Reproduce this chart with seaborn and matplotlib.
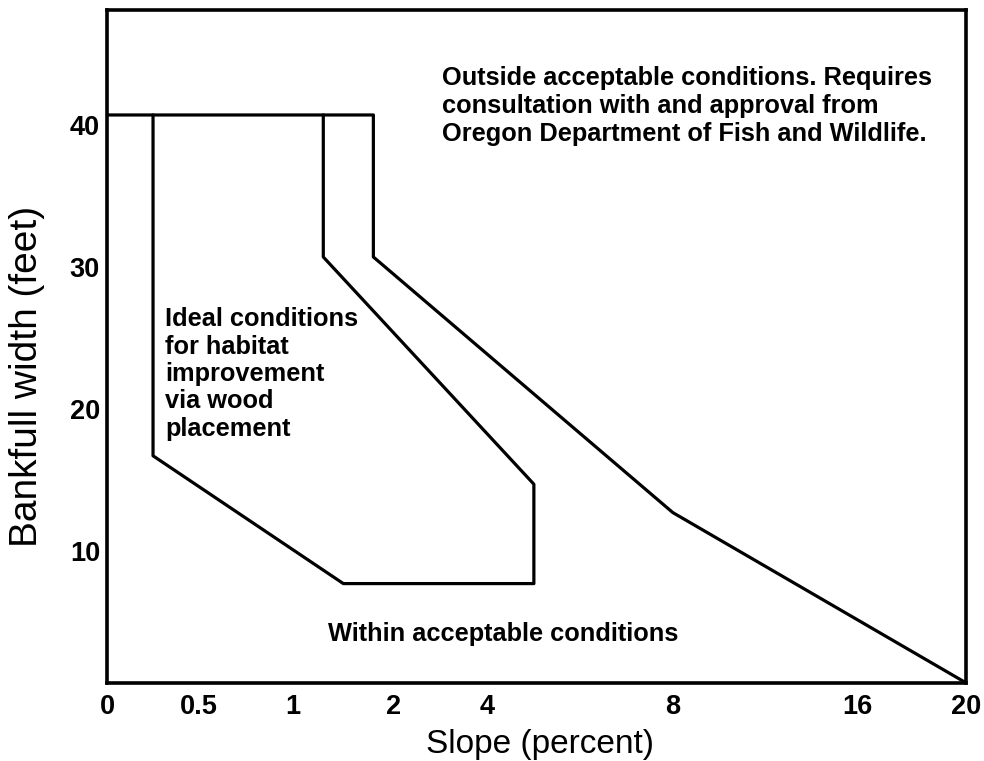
import numpy as np
import pandas as pd
import matplotlib
matplotlib.use("Agg")
import matplotlib.pyplot as plt
import seaborn as sns

# ---- data ----
slope_ticks = [0, 0.5, 1, 2, 4, 8, 16, 20]
slope_tick_labels = ["0", "0.5", "1", "2", "4", "8", "16", "20"]
width_ticks = [10, 20, 30, 40]

# outer limit of acceptable conditions
limit_slope = [0, 1.8, 1.8, 8, 20]
limit_width = [40, 40, 30, 12, 0]

# ideal conditions region
ideal_slope = [1.3, 1.3, 5, 5, 1.5, 0.25, 0.25]
ideal_width = [40, 30, 14, 7, 7, 16, 40]

# ---- non-uniform slope axis (positions of ticks along the axis) ----
axis_pos = np.array([0, 92, 186, 286, 380, 565, 749, 858], dtype=float)
tick_vals = np.array(slope_ticks, dtype=float)

def fwd(x):
    return np.interp(x, tick_vals, axis_pos)

def inv(p):
    return np.interp(p, axis_pos, tick_vals)

sns.set_style("white")
plt.rcParams["font.family"] = ["Liberation Sans", "DejaVu Sans"]

fig = plt.figure(figsize=(9.84, 7.61), dpi=100)
ax = fig.add_axes([0.1087, 0.1025, 0.8733, 0.8845])
ax.set_xscale("function", functions=(fwd, inv))

df_limit = pd.DataFrame({"slope": limit_slope, "width": limit_width})
df_ideal = pd.DataFrame({"slope": ideal_slope, "width": ideal_width})
sns.lineplot(data=df_limit, x="slope", y="width", sort=False, estimator=None,
             color="black", linewidth=2.3, ax=ax)
sns.lineplot(data=df_ideal, x="slope", y="width", sort=False, estimator=None,
             color="black", linewidth=2.3, ax=ax)

ax.set_xlim(0, 20)
ax.set_ylim(0, 47.4)
ax.set_xticks(slope_ticks)
ax.set_xticklabels(slope_tick_labels)
ax.xaxis.set_minor_locator(matplotlib.ticker.NullLocator())
ax.set_yticks(width_ticks)
ax.tick_params(axis="both", direction="in", length=6, width=1.5, labelsize=19.5,
               color="black", labelcolor="black")
ax.tick_params(axis="x", pad=8)
ax.tick_params(axis="y", pad=5)
for lab in ax.get_xticklabels() + ax.get_yticklabels():
    lab.set_fontweight("bold")
for lab in ax.get_yticklabels():
    lab.set_verticalalignment("top")

for s in ax.spines.values():
    s.set_color("black")
    s.set_linewidth(2.6)

ax.set_xlabel("Slope (percent)", fontsize=24, color="black")
ax.xaxis.set_label_coords(0.504, -0.092)
ax.xaxis.label.set_verticalalignment("center")
ax.set_ylabel("Bankfull width (feet)", fontsize=28, color="black")
ax.yaxis.set_label_coords(-0.093, 0.456)
ax.yaxis.label.set_verticalalignment("center")

ax.text(0.39, 0.857,
        "Outside acceptable conditions. Requires\nconsultation with and approval from\nOregon Department of Fish and Wildlife.",
        transform=ax.transAxes, fontsize=18.3, fontweight="bold",
        ha="left", va="center", linespacing=1.2, color="black")
ax.text(0.0675, 0.459,
        "Ideal conditions\nfor habitat\nimprovement\nvia wood\nplacement",
        transform=ax.transAxes, fontsize=18.3, fontweight="bold",
        ha="left", va="center", linespacing=1.18, color="black")
ax.text(0.257, 0.073, "Within acceptable conditions",
        transform=ax.transAxes, fontsize=18.3, fontweight="bold",
        ha="left", va="center", color="black")

fig.savefig("out.png", dpi=100)
